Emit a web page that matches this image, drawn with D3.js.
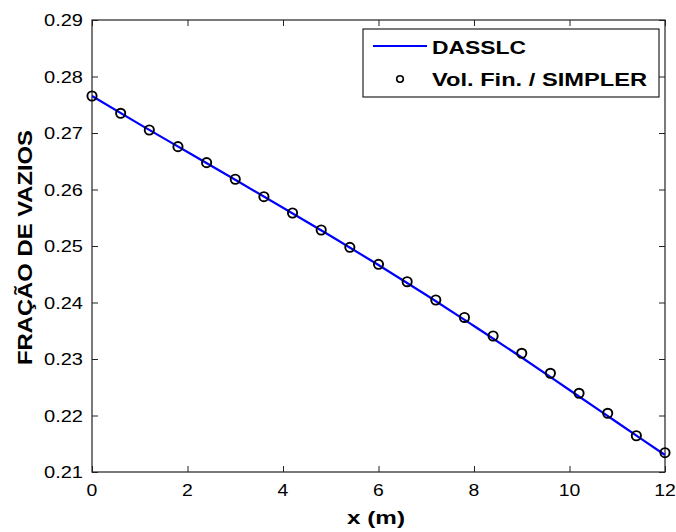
<!DOCTYPE html>
<html><head><meta charset="utf-8">
<script src="https://cdn.jsdelivr.net/npm/d3@7"></script>
<style>body{margin:0;background:#fff}svg{display:block}text{font-family:Arial,"Liberation Sans",Helvetica,sans-serif}</style>
</head><body><svg id="c" width="676" height="532"></svg>
<script>
const lineX = [0,1,2,3,4,5,6,7,8,9,10,11,12];
const lineY = [0.27655,0.27152,0.26664,0.26172,0.25676,0.25177,0.24664,0.24133,0.23584,0.23027,0.22451,0.21876,0.21301];
const ptX = [0,0.6,1.2,1.8,2.4,3,3.6,4.2,4.8,5.4,6,6.6,7.2,7.8,8.4,9,9.6,10.2,10.8,11.4,12];
const ptY = [0.27655,0.27349,0.27053,0.26758,0.26475,0.26181,0.25873,0.25584,0.25283,0.24977,0.24676,0.24368,0.24044,0.23735,0.23407,0.23101,0.22747,0.22393,0.22039,0.21642,0.21342];
const xTicks = [0,2,4,6,8,10,12];
const yTicks = [0.21,0.22,0.23,0.24,0.25,0.26,0.27,0.28,0.29];
const seriesNames = ["DASSLC","Vol. Fin. / SIMPLER"];
const xLabel = "x (m)", yLabel = "FRAÇÃO DE VAZIOS";

const L=92,R=665,T=20,B=472;
const svg=d3.select("#c");
const x=d3.scaleLinear().domain([0,12]).range([L,R]);
const y=d3.scaleLinear().domain([0.21,0.29]).range([B,T]);
const axc="#222";

function styleAxis(g){g.select(".domain").remove();g.selectAll(".tick line").attr("stroke",axc);}
// ticks (inward, mirrored)
svg.append("g").attr("transform",`translate(0,${B})`).call(d3.axisTop(x).tickValues(xTicks).tickSize(6).tickFormat(""))
  .call(styleAxis);
svg.append("g").attr("transform",`translate(0,${T})`).call(d3.axisBottom(x).tickValues(xTicks).tickSize(6).tickFormat(""))
  .call(styleAxis);
svg.append("g").attr("transform",`translate(${L},0)`).call(d3.axisRight(y).tickValues(yTicks).tickSize(6).tickFormat(""))
  .call(styleAxis);
svg.append("g").attr("transform",`translate(${R},0)`).call(d3.axisLeft(y).tickValues(yTicks).tickSize(6).tickFormat(""))
  .call(styleAxis);
svg.append("rect").attr("x",L).attr("y",T).attr("width",R-L).attr("height",B-T)
  .attr("fill","none").attr("stroke",axc).attr("stroke-width",1.2);

// tick labels
svg.append("g").selectAll("text").data(xTicks).join("text")
  .attr("x",d=>x(d)).attr("y",496).attr("text-anchor","middle")
  .attr("font-size",17).attr("fill","#000")
  .attr("textLength",d=>String(d).length*10.8).attr("lengthAdjust","spacingAndGlyphs")
  .text(d=>d);
svg.append("g").selectAll("text").data(yTicks).join("text")
  .attr("x",83).attr("y",d=>y(d)+6).attr("text-anchor","end")
  .attr("font-size",17).attr("fill","#000")
  .attr("textLength",39).attr("lengthAdjust","spacingAndGlyphs")
  .text(d=>d.toFixed(2));

// axis labels
svg.append("text").attr("x",376).attr("y",524).attr("text-anchor","middle")
  .attr("font-size",19).attr("font-weight","bold").attr("textLength",58).attr("lengthAdjust","spacingAndGlyphs")
  .text(xLabel);
svg.append("text").attr("transform","translate(32,247.5) rotate(-90)").attr("text-anchor","middle")
  .attr("font-size",20).attr("font-weight","bold").attr("textLength",235).attr("lengthAdjust","spacingAndGlyphs")
  .text(yLabel);

// series
const lineData=lineX.map((v,i)=>[v,lineY[i]]);
svg.append("path").datum(lineData)
  .attr("d",d3.line().x(d=>x(d[0])).y(d=>y(d[1])).curve(d3.curveMonotoneX))
  .attr("fill","none").attr("stroke","#0000ff").attr("stroke-width",2.2);
svg.append("g").selectAll("circle").data(ptX.map((v,i)=>[v,ptY[i]])).join("circle")
  .attr("cx",d=>x(d[0])).attr("cy",d=>y(d[1])).attr("r",4.6)
  .attr("fill","none").attr("stroke","#000").attr("stroke-width",1.9);

// legend
const lg=svg.append("g");
lg.append("rect").attr("x",363).attr("y",29).attr("width",296).attr("height",68)
  .attr("fill","#fff").attr("stroke",axc).attr("stroke-width",1.2);
lg.append("line").attr("x1",373).attr("x2",427).attr("y1",46).attr("y2",46)
  .attr("stroke","#0000ff").attr("stroke-width",2.2);
lg.append("circle").attr("cx",400).attr("cy",79).attr("r",3.3)
  .attr("fill","none").attr("stroke","#000").attr("stroke-width",1.6);
lg.append("text").attr("x",432).attr("y",54).attr("font-size",19).attr("font-weight","bold")
  .attr("textLength",94).attr("lengthAdjust","spacingAndGlyphs").text(seriesNames[0]);
lg.append("text").attr("x",432).attr("y",86).attr("font-size",19).attr("font-weight","bold")
  .attr("textLength",215).attr("lengthAdjust","spacingAndGlyphs").text(seriesNames[1]);
</script></body></html>
